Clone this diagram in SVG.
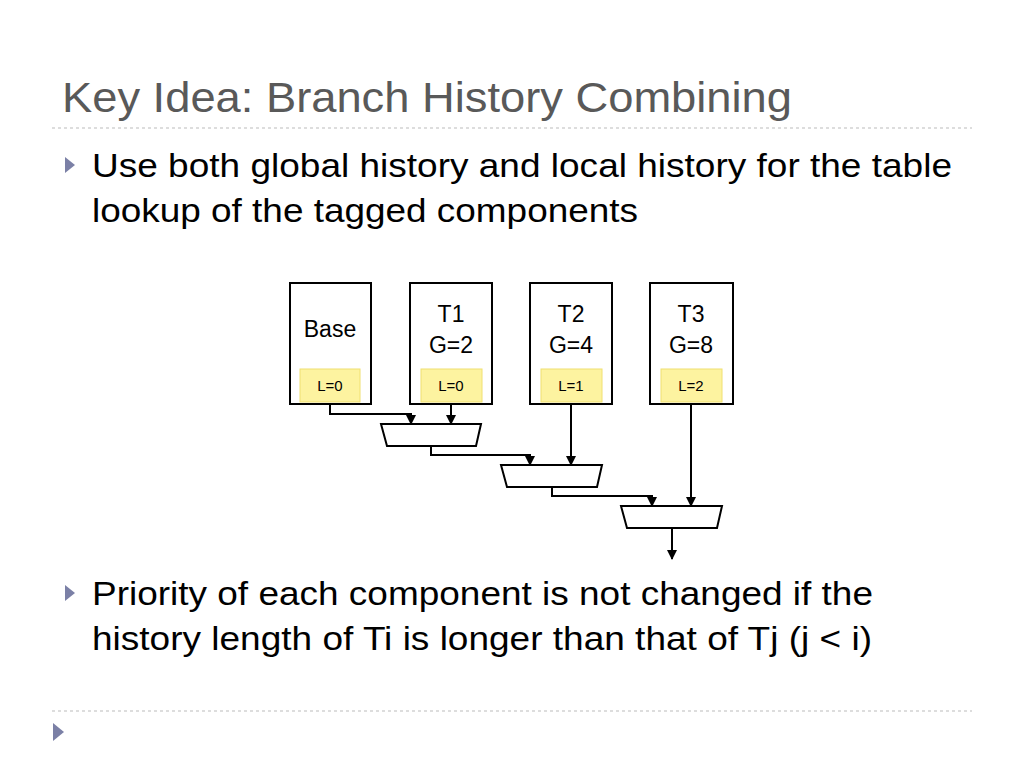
<svg xmlns="http://www.w3.org/2000/svg" width="1024" height="768" viewBox="0 0 1024 768">
<style>
text{font-family:"Liberation Sans",Arial,sans-serif}
.box{fill:#fff;stroke:#000;stroke-width:2}
.lab{fill:#fdf3a0;stroke:#f0e070;stroke-width:1}
.mux{fill:#fff;stroke:#000;stroke-width:2}
.ln{fill:none;stroke:#000;stroke-width:2;marker-end:url(#ah)}
.sep{stroke:#bbb;stroke-dasharray:3,3;stroke-width:1}
</style>
<defs><marker id="ah" markerWidth="10" markerHeight="10" refX="9" refY="5" orient="auto" markerUnits="userSpaceOnUse"><path d="M0,0 L10,5 L0,10 z" fill="#000"/></marker></defs>
<rect width="1024" height="768" fill="#fff"/>
<text x="62" y="112" font-size="43" fill="#595959" textLength="730" lengthAdjust="spacingAndGlyphs">Key Idea: Branch History Combining</text>
<line class="sep" x1="52" y1="128" x2="972" y2="128"/>
<line class="sep" x1="52" y1="711" x2="972" y2="711"/>
<path d="M65,157 L75,165 L65,173 z" fill="#7b80a6"/>
<path d="M65,585 L75,593 L65,601 z" fill="#7b80a6"/>
<path d="M53,723 L64,732 L53,741 z" fill="#7b80a6"/>
<g font-size="33" fill="#000" lengthAdjust="spacingAndGlyphs">
<text x="92" y="177" textLength="860" lengthAdjust="spacingAndGlyphs">Use both global history and local history for the table</text>
<text x="92" y="222" textLength="546" lengthAdjust="spacingAndGlyphs">lookup of the tagged components</text>
<text x="92" y="605" textLength="781" lengthAdjust="spacingAndGlyphs">Priority of each component is not changed if the</text>
<text x="92" y="650" textLength="780" lengthAdjust="spacingAndGlyphs">history length of Ti is longer than that of Tj (j &lt; i)</text>
</g>
<g id="base"><rect class="box" x="290" y="283" width="81" height="121"/><rect class="lab" x="300" y="369" width="60" height="33"/><text x="330" y="337" font-size="23" text-anchor="middle">Base</text><text x="330" y="391" font-size="15" text-anchor="middle">L=0</text></g>
<g id="t1"><rect class="box" x="410" y="283" width="82" height="121"/><rect class="lab" x="421" y="369" width="61" height="33"/><text x="451" y="322" font-size="23" text-anchor="middle">T1</text><text x="451" y="353" font-size="23" text-anchor="middle">G=2</text><text x="451" y="391" font-size="15" text-anchor="middle">L=0</text></g>
<g id="t2"><rect class="box" x="530" y="283" width="82" height="121"/><rect class="lab" x="541" y="369" width="61" height="33"/><text x="571" y="322" font-size="23" text-anchor="middle">T2</text><text x="571" y="353" font-size="23" text-anchor="middle">G=4</text><text x="571" y="391" font-size="15" text-anchor="middle">L=1</text></g>
<g id="t3"><rect class="box" x="650" y="283" width="83" height="121"/><rect class="lab" x="661" y="369" width="61" height="33"/><text x="691" y="322" font-size="23" text-anchor="middle">T3</text><text x="691" y="353" font-size="23" text-anchor="middle">G=8</text><text x="691" y="391" font-size="15" text-anchor="middle">L=2</text></g>
<g id="mux1"><path class="mux" d="M381,424 H481 L476,446 H387 z"/></g>
<g id="mux2"><path class="mux" d="M501,465 H602 L597,487 H507 z"/></g>
<g id="mux3"><path class="mux" d="M621,506 H722 L717,528 H627 z"/></g>
<g id="connectors">
<path class="ln" d="M330,404 V414 H411 V424"/>
<path class="ln" d="M451,404 V424"/>
<path class="ln" d="M431,446 V455 H530 V465"/>
<path class="ln" d="M571,404 V465"/>
<path class="ln" d="M552,487 V496 H652 V506"/>
<path class="ln" d="M691,404 V506"/>
<path class="ln" d="M672,528 V559"/>
</g>
</svg>
